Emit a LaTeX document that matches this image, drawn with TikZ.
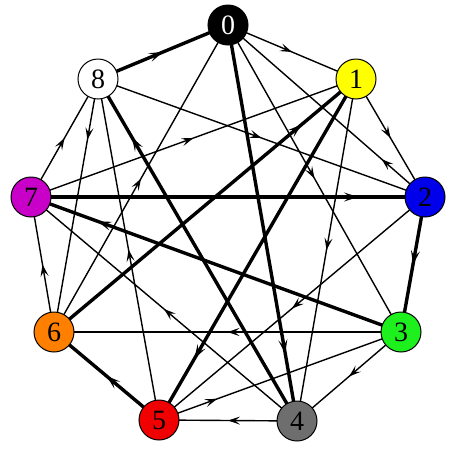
\documentclass[tikz,border=0pt]{standalone}
\usepackage{fontspec}
\setmainfont{Liberation Serif}
\usetikzlibrary{arrows.meta, decorations.markings, backgrounds}

\definecolor{vyellow}{RGB}{255,255,0}
\definecolor{vblue}{RGB}{0,0,235}
\definecolor{vgreen}{RGB}{30,240,30}
\definecolor{vgray}{RGB}{110,110,110}
\definecolor{vred}{RGB}{240,0,0}
\definecolor{vorange}{RGB}{255,128,0}
\definecolor{vpurple}{RGB}{200,0,200}

\begin{document}
\begin{tikzpicture}[
  x=1pt, y=-1pt,
  vert/.style={circle, draw=black, line width=1pt, minimum size=40pt,
    inner sep=0pt, font=\fontsize{28}{28}\selectfont},
  edge/.style={line width=1.4pt},
  heavy/.style={line width=3.4pt},
  arr/.style={postaction={decorate, decoration={markings,
    mark=at position #1 with {\arrow{Stealth[length=12pt, width=8pt, inset=5pt]}}}}},
  arr/.default=0.5,
  harr/.style={postaction={decorate, decoration={markings,
    mark=at position #1 with {\arrow{Stealth[length=14pt, width=9pt, inset=6pt]}}}}},
  harr/.default=0.5
]
\useasboundingbox (0,0) rectangle (456,448);

% vertices
\node[vert, fill=black, text=white] (n0) at (228,25) {0};
\node[vert, fill=vyellow] (n1) at (356,79) {1};
\node[vert, fill=vblue] (n2) at (425,197) {2};
\node[vert, fill=vgreen] (n3) at (401,332) {3};
\node[vert, fill=vgray] (n4) at (297,421) {4};
\node[vert, fill=vred] (n5) at (159,420) {5};
\node[vert, fill=vorange] (n6) at (54,332) {6};
\node[vert, fill=vpurple] (n7) at (31,197) {7};
\node[vert, fill=white] (n8) at (98,79) {8};

\begin{scope}[on background layer]
% heavy triangles
\draw[heavy, harr] (n8.center) -- (n0.center);
\draw[heavy, harr=0.83] (n0.center) -- (n4.center);
\draw[heavy, harr=0.83] (n4.center) -- (n8.center);
\draw[heavy, harr=0.82] (n6.center) -- (n1.center);
\draw[heavy, harr=0.82] (n1.center) -- (n5.center);
\draw[heavy, harr] (n5.center) -- (n6.center);
\draw[heavy, harr=0.83] (n7.center) -- (n2.center);
\draw[heavy, harr] (n2.center) -- (n3.center);
\draw[heavy, harr=0.82] (n3.center) -- (n7.center);
% thin edges
\draw[edge, arr] (n0.center) -- (n1.center);
\draw[edge, arr] (n6.center) -- (n0.center);
\draw[edge, arr] (n0.center) -- (n3.center);
\draw[edge, arr=0.22] (n2.center) -- (n0.center);
\draw[edge, arr] (n1.center) -- (n2.center);
\draw[edge, arr] (n1.center) -- (n4.center);
\draw[edge, arr] (n7.center) -- (n1.center);
\draw[edge, arr] (n8.center) -- (n2.center);
\draw[edge, arr] (n2.center) -- (n5.center);
\draw[edge, arr] (n3.center) -- (n6.center);
\draw[edge, arr] (n3.center) -- (n4.center);
\draw[edge, arr=0.24] (n5.center) -- (n3.center);
\draw[edge, arr] (n4.center) -- (n5.center);
\draw[edge, arr] (n4.center) -- (n7.center);
\draw[edge, arr] (n5.center) -- (n8.center);
\draw[edge, arr] (n6.center) -- (n7.center);
\draw[edge, arr=0.24] (n8.center) -- (n6.center);
\draw[edge, arr] (n7.center) -- (n8.center);
\end{scope}
\end{tikzpicture}
\end{document}
